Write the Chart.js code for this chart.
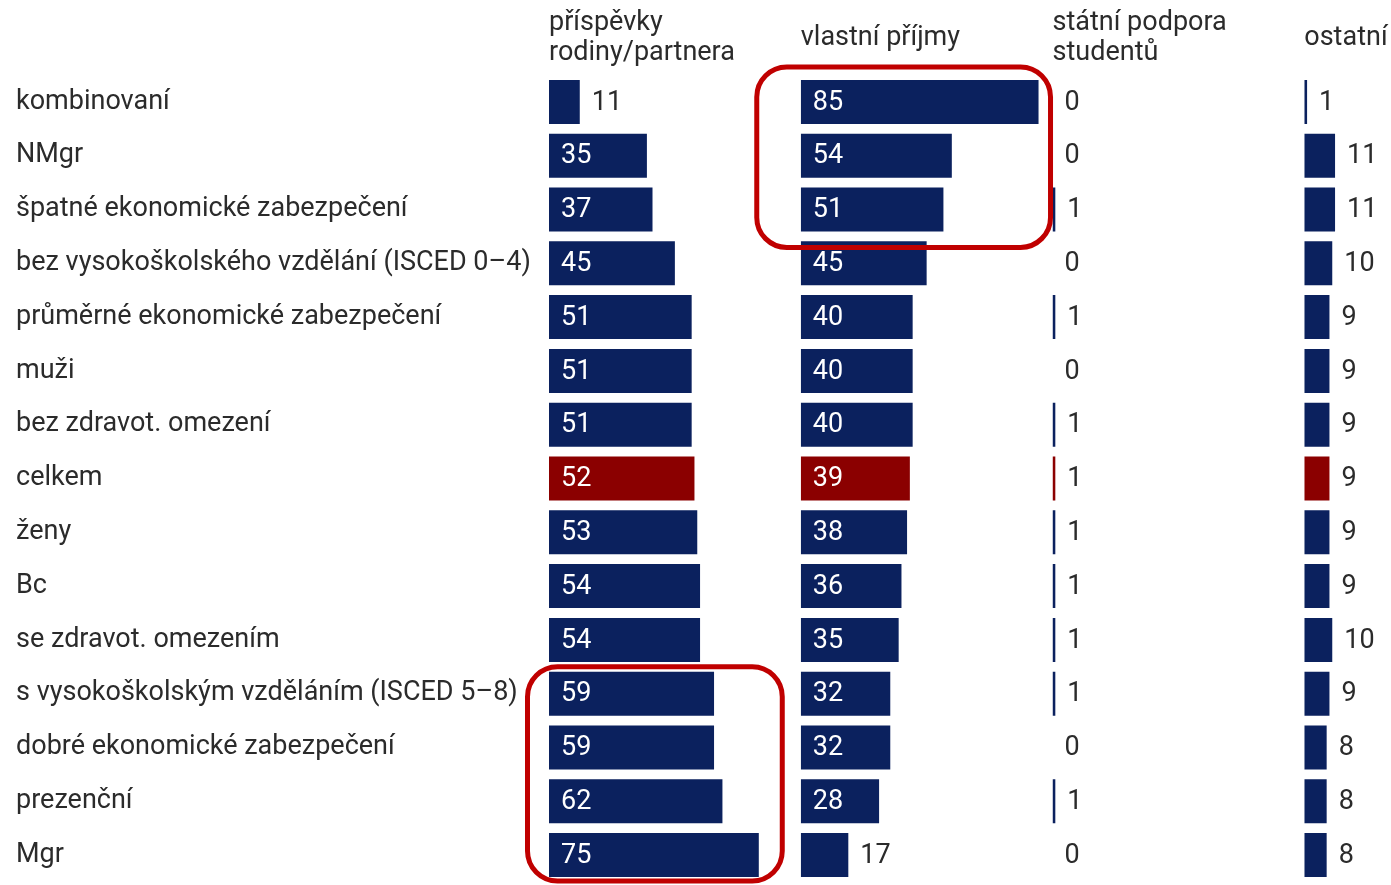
<!DOCTYPE html>
<html>
<head>
<meta charset="utf-8">
<script src="https://cdn.jsdelivr.net/npm/chart.js@4/dist/chart.umd.min.js"></script>
<style>
  html, body { margin: 0; padding: 0; background: #fff; }
  #wrap { width: 1391px; height: 885px; position: relative; }
</style>
</head>
<body>
<div id="wrap"><canvas id="c"></canvas></div>
<script>
const categories = [
  'kombinovaní',
  'NMgr',
  'špatné ekonomické zabezpečení',
  'bez vysokoškolského vzdělání (ISCED 0–4)',
  'průměrné ekonomické zabezpečení',
  'muži',
  'bez zdravot. omezení',
  'celkem',
  'ženy',
  'Bc',
  'se zdravot. omezením',
  's vysokoškolským vzděláním (ISCED 5–8)',
  'dobré ekonomické zabezpečení',
  'prezenční',
  'Mgr'
];
const seriesNames = [
  ['příspěvky', 'rodiny/partnera'],
  'vlastní příjmy',
  ['státní podpora', 'studentů'],
  'ostatní'
];
const familyValues  = [11, 35, 37, 45, 51, 51, 51, 52, 53, 54, 54, 59, 59, 62, 75];
const incomeValues  = [85, 54, 51, 45, 40, 40, 40, 39, 38, 36, 35, 32, 32, 28, 17];
const stateValues   = [0, 0, 1, 0, 1, 0, 1, 1, 1, 1, 1, 1, 0, 1, 0];
const otherValues   = [1, 11, 11, 10, 9, 9, 9, 9, 9, 9, 10, 9, 8, 8, 8];
const highlightCategory = 'celkem';

const NAVY = '#0b215e';
const RED = '#8b0000';
const TEXT = '#2b2b2b';
const FONT = 'Roboto';
const FS = 27;

const seriesValues = [familyValues, incomeValues, stateValues, otherValues];
const axisIds = ['x1', 'x2', 'x3', 'x4'];
const axisMax = [90, 90, 90, 31];

// highlight boxes: series index and category range (annotation)
const highlights = [
  { series: 1, from: 0, to: 2, padL: 44, padR: 2, padT: 8, padB: 11 },
  { series: 0, from: 11, to: 14, padL: 21.5, padR: 18.5, padT: 0, padB: -1 }
];

const barColors = categories.map(c => c === highlightCategory ? RED : NAVY);

const datasets = seriesValues.map((vals, i) => ({
  label: Array.isArray(seriesNames[i]) ? seriesNames[i].join(' ') : seriesNames[i],
  data: vals,
  xAxisID: axisIds[i],
  yAxisID: 'y',
  backgroundColor: barColors,
  borderWidth: 0,
  grouped: false,
  categoryPercentage: 1,
  barPercentage: 0.817
}));

const scales = {
  y: {
    type: 'category',
    position: 'left',
    offset: true,
    grid: { display: false, drawTicks: false },
    border: { display: false },
    ticks: {
      crossAlign: 'far',
      padding: 0,
      color: TEXT,
      font: { family: FONT, size: FS }
    },
    afterFit(scale) {
      scale.width = 533;
      scale.paddingTop = 0;
      scale.paddingBottom = 0;
    }
  }
};
axisIds.forEach((id, i) => {
  const multi = Array.isArray(seriesNames[i]);
  scales[id] = {
    type: 'linear',
    position: 'top',
    stack: 'panels',
    stackWeight: axisMax[i],
    weight: 4 - i,
    min: 0,
    max: axisMax[i],
    grid: { display: false, drawTicks: false },
    border: { display: false },
    ticks: { display: false },
    title: {
      display: true,
      text: seriesNames[i],
      align: 'start',
      color: TEXT,
      font: { family: FONT, size: FS, lineHeight: 30 / FS },
      padding: multi ? { top: 7, bottom: 7 } : { top: 22, bottom: 7 }
    }
  };
});

const labelPlugin = {
  id: 'barLabels',
  afterDatasetsDraw(chart) {
    const ctx = chart.ctx;
    ctx.save();
    ctx.font = FS + 'px ' + FONT;
    ctx.textBaseline = 'middle';
    ctx.textAlign = 'left';
    chart.data.datasets.forEach((ds, di) => {
      const meta = chart.getDatasetMeta(di);
      meta.data.forEach((el, idx) => {
        const v = ds.data[idx];
        const inside = v >= 20;
        const x = inside ? el.base + 12 : el.x + 12;
        ctx.fillStyle = inside ? '#ffffff' : TEXT;
        ctx.fillText(String(v), x, el.y + 1);
      });
    });
    ctx.restore();
  }
};

const highlightPlugin = {
  id: 'highlightBoxes',
  afterDatasetsDraw(chart) {
    const ctx = chart.ctx;
    const y = chart.scales.y;
    const band = (y.getPixelForValue(1) - y.getPixelForValue(0));
    ctx.save();
    ctx.strokeStyle = '#c00000';
    ctx.lineWidth = 5;
    highlights.forEach(h => {
      const xs = chart.scales[axisIds[h.series]];
      const left = xs.left - h.padL;
      const right = xs.right - h.padR;
      const top = y.getPixelForValue(h.from) - band / 2 - h.padT;
      const bottom = y.getPixelForValue(h.to) + band / 2 + h.padB;
      ctx.beginPath();
      ctx.roundRect(left, top, right - left, bottom - top, 30);
      ctx.stroke();
    });
    ctx.restore();
  }
};

new Chart(document.getElementById('c'), {
  type: 'bar',
  data: { labels: categories, datasets },
  options: {
    indexAxis: 'y',
    responsive: true,
    maintainAspectRatio: false,
    animation: false,
    layout: { padding: { left: 16, right: 0, top: 1, bottom: 3 } },
    plugins: { legend: { display: false }, tooltip: { enabled: false } },
    scales
  },
  plugins: [labelPlugin, highlightPlugin]
});
</script>
</body>
</html>
